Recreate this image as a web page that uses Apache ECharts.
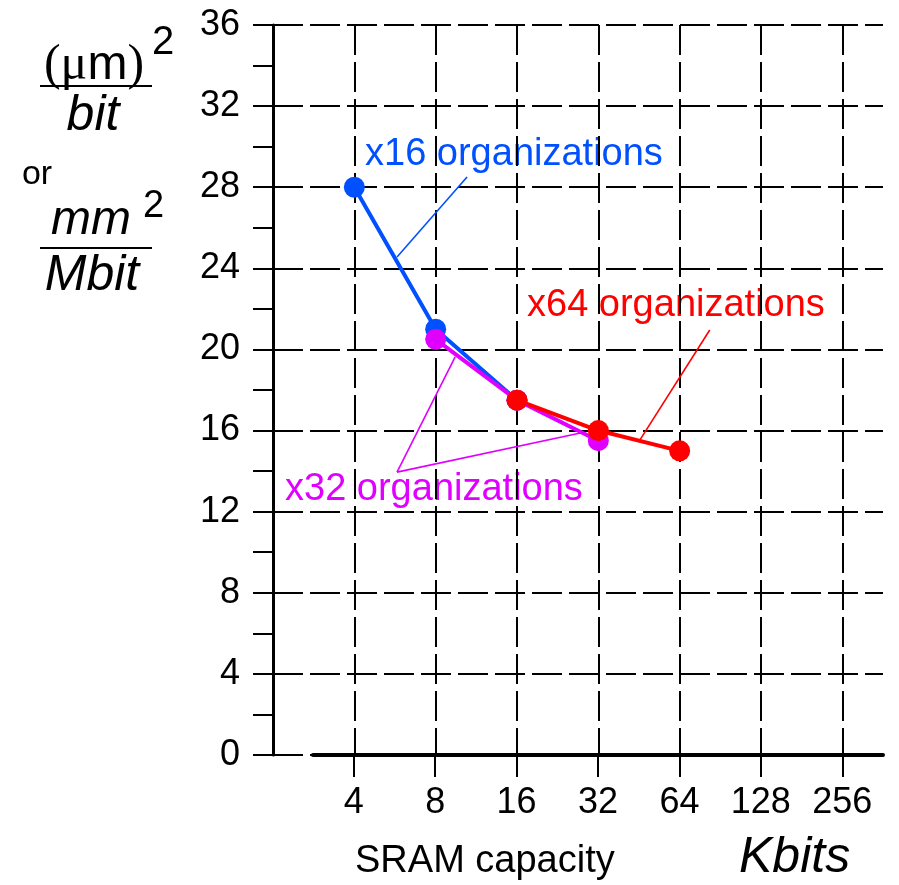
<!DOCTYPE html>
<html>
<head>
<meta charset="utf-8">
<script src="https://cdn.jsdelivr.net/npm/echarts@6/dist/echarts.min.js"></script>
<style>
  html, body { margin: 0; padding: 0; background: #fff; }
  #chart { width: 899px; height: 885px; }
</style>
</head>
<body>
<div id="chart"></div>
<script>
// ---- data ----
const categories = ['4', '8', '16', '32', '64', '128', '256']; // SRAM capacity, Kbits
const x16Values = [28, 21, 17.5, null, null, null, null];
const x32Values = [null, 20.5, 17.5, 15.5, null, null, null];
const x64Values = [null, null, 17.5, 16, 15, null, null];
const seriesNames = ['x16 organizations', 'x32 organizations', 'x64 organizations'];
const seriesColors = ['#0050ff', '#e000ff', '#ff0000'];
// leader lines from labels to curves, in data units [categoryIndex, value]
const x16Leader = [[[1.386, 28.5], [0.525, 24.56]]];
const x32Leader = [[[0.525, 13.95], [1.24, 19.63]], [[0.525, 13.95], [2.78, 15.88]]];
const x64Leader = [[[4.37, 20.96], [3.51, 15.53]]];

function toPairs(arr) {
  const out = [];
  arr.forEach((v, i) => { if (v !== null) out.push([i, v]); });
  return out;
}
function leader(list, color) {
  return {
    silent: true, symbol: 'none', animation: false,
    label: { show: false },
    lineStyle: { color: color, width: 1.6, type: 'solid' },
    emphasis: { disabled: true },
    data: list.map(p => [{ coord: p[0] }, { coord: p[1] }])
  };
}

const chart = echarts.init(document.getElementById('chart'), null, { renderer: 'canvas' });
const FONT = '"Liberation Sans", Arial, sans-serif';
const dash = [30, 7];
// vertical grid lines: one per category (ticks -1..6), none at the right boundary
const vGridColors = ['rgba(0,0,0,0)'].concat(categories.map(() => '#000')).concat(['rgba(0,0,0,0)']);

const mkSeries = (name, vals, color, lead) => ({
  name: name, type: 'line', xAxisIndex: 0, yAxisIndex: 0,
  data: toPairs(vals),
  symbol: 'circle', symbolSize: 21, showSymbol: true,
  lineStyle: { color: color, width: 4 },
  itemStyle: { color: color },
  emphasis: { disabled: true },
  animation: false,
  markLine: leader(lead, color)
});

const option = {
  backgroundColor: '#ffffff',
  animation: false,
  grid: [
    { left: 273, right: 16, top: 25, bottom: 130 },
    { left: 313, right: 16, top: 25, bottom: 130 }
  ],
  xAxis: [
    {
      gridIndex: 0, type: 'value', min: -1, max: 6.5, interval: 1,
      axisLine: { show: false, onZero: false }, axisTick: { show: false }, axisLabel: { show: false },
      splitLine: { show: true, lineStyle: { color: vGridColors, width: 2, type: dash } }
    },
    {
      gridIndex: 1, type: 'value', min: -0.5, max: 6.5,
      axisLine: { show: true, onZero: false, lineStyle: { color: '#000', width: 4 } },
      axisTick: { show: true, inside: false, length: 22, customValues: [0, 1, 2, 3, 4, 5, 6],
                  lineStyle: { color: '#000', width: 2 } },
      axisLabel: { show: true, margin: 30, customValues: [0, 1, 2, 3, 4, 5, 6],
                   formatter: v => categories[Math.round(v)] ?? '',
                   fontFamily: FONT, fontSize: 36, color: '#000' },
      splitLine: { show: false }
    }
  ],
  yAxis: [
    {
      gridIndex: 0, type: 'value', min: 0, max: 36, interval: 4,
      axisLine: { show: true, onZero: false, lineStyle: { color: '#000', width: 3 } },
      axisTick: { show: true, inside: false, length: 20, lineStyle: { color: '#000', width: 2 } },
      minorTick: { show: true, splitNumber: 2, length: 20, lineStyle: { color: '#000', width: 2 } },
      axisLabel: { margin: 33, fontFamily: FONT, fontSize: 36, color: '#000' },
      splitLine: { show: true, lineStyle: { color: '#000', width: 2, type: dash } }
    },
    { gridIndex: 1, type: 'value', min: 0, max: 36, show: false }
  ],
  series: [
    mkSeries(seriesNames[0], x16Values, seriesColors[0], x16Leader),
    mkSeries(seriesNames[1], x32Values, seriesColors[1], x32Leader),
    mkSeries(seriesNames[2], x64Values, seriesColors[2], x64Leader)
  ],
  graphic: [
    // series labels
    { type: 'text', x: 365, y: 155, style: { text: seriesNames[0], font: '38px ' + FONT, fill: seriesColors[0], align: 'left', verticalAlign: 'middle' } },
    { type: 'text', x: 285, y: 490, style: { text: seriesNames[1], font: '38px ' + FONT, fill: seriesColors[1], align: 'left', verticalAlign: 'middle' } },
    { type: 'text', x: 527, y: 306, style: { text: seriesNames[2], font: '38px ' + FONT, fill: seriesColors[2], align: 'left', verticalAlign: 'middle' } },
    // x axis titles
    { type: 'text', x: 355, y: 862, style: { text: 'SRAM capacity', font: '38px ' + FONT, fill: '#000', align: 'left', verticalAlign: 'middle' } },
    { type: 'text', x: 739, y: 858, style: { text: 'Kbits', font: 'italic 50px ' + FONT, fill: '#000', align: 'left', verticalAlign: 'middle' } },
    // y axis title: (um)^2 / bit  or  mm^2 / Mbit
    { type: 'text', x: 94, y: 66, style: {
        text: '{s|(}{u|\u03bc}{a|m}{s|)}', align: 'center', verticalAlign: 'middle',
        rich: {
          s: { fontFamily: '"Liberation Serif", serif', fontSize: 50, fill: '#000' },
          u: { fontFamily: '"Liberation Serif", serif', fontSize: 50, fill: '#000' },
          a: { fontFamily: FONT, fontSize: 48, fill: '#000' }
        } } },
    { type: 'text', x: 152, y: 43, style: { text: '2', font: '40px ' + FONT, fill: '#000', align: 'left', verticalAlign: 'middle' } },
    { type: 'line', shape: { x1: 40, y1: 86, x2: 152, y2: 86 }, style: { stroke: '#000', lineWidth: 2 } },
    { type: 'text', x: 93, y: 116, style: { text: 'bit', font: 'italic 50px ' + FONT, fill: '#000', align: 'center', verticalAlign: 'middle' } },
    { type: 'text', x: 37, y: 175, style: { text: 'or', font: '34px ' + FONT, fill: '#000', align: 'center', verticalAlign: 'middle' } },
    { type: 'text', x: 91, y: 221, style: { text: 'mm', font: 'italic 48px ' + FONT, fill: '#000', align: 'center', verticalAlign: 'middle' } },
    { type: 'text', x: 143, y: 207, style: { text: '2', font: '38px ' + FONT, fill: '#000', align: 'left', verticalAlign: 'middle' } },
    { type: 'line', shape: { x1: 40, y1: 248, x2: 152, y2: 248 }, style: { stroke: '#000', lineWidth: 2 } },
    { type: 'text', x: 92, y: 276, style: { text: 'Mbit', font: 'italic 50px ' + FONT, fill: '#000', align: 'center', verticalAlign: 'middle' } }
  ]
};
chart.setOption(option);
</script>
</body>
</html>
